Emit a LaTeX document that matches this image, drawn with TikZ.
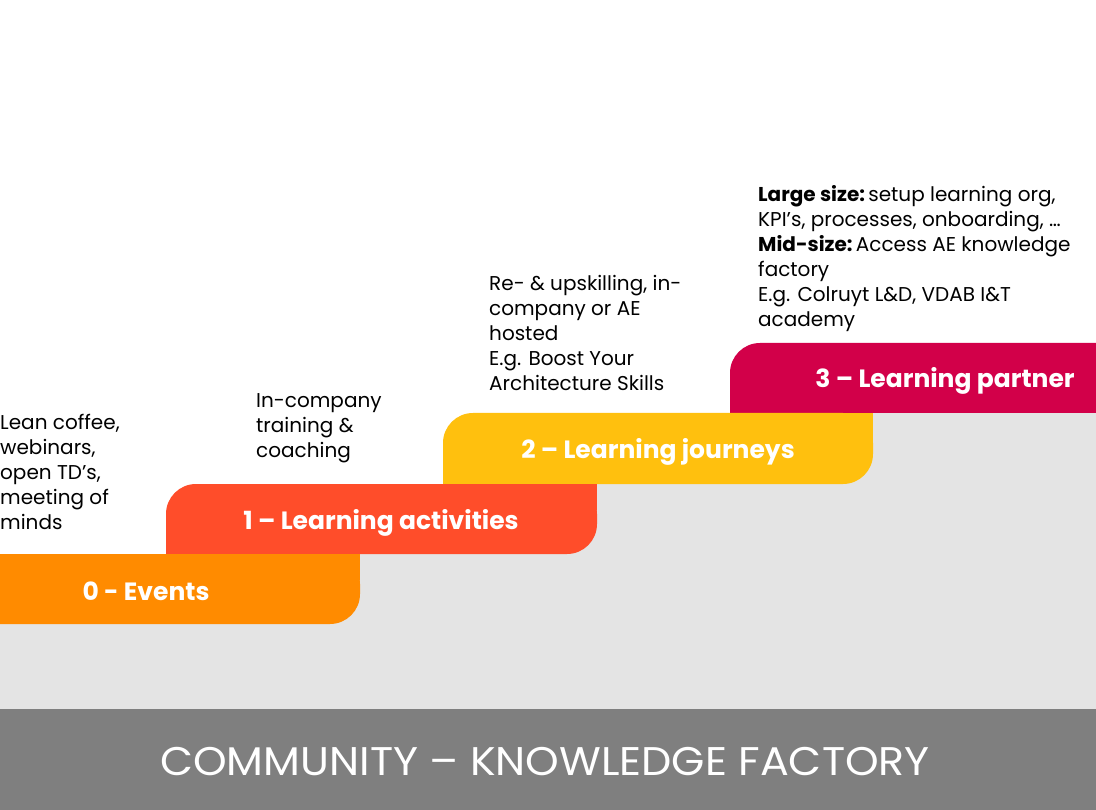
\documentclass[tikz,border=0pt]{standalone}
\usepackage{fontspec}
\setmainfont{Poppins}
\definecolor{czero}{HTML}{FF8B00}
\definecolor{cone}{HTML}{FF4D2A}
\definecolor{ctwo}{HTML}{FFC00E}
\definecolor{cthree}{HTML}{D20049}
\definecolor{lgray}{HTML}{E4E4E4}
\definecolor{dgray}{HTML}{7F7F7F}
\newcommand{\blk}[1]{\fontsize{20}{25}\selectfont\begin{tabular}[t]{@{}l@{}}#1\end{tabular}}
\tikzset{
  desc/.style={anchor=base west, inner sep=0pt, text=black},
  steplabel/.style={anchor=base, inner sep=0pt, text=white, font=\fontsize{25}{30}\selectfont\bfseries},
}
\begin{document}
\begin{tikzpicture}[x=1pt,y=-1pt]
\clip (0,0) rectangle (1096,810);
\fill[white] (0,0) rectangle (1096,810);
% gray stair background
\fill[lgray] (0,709) -- (1096,709) -- (1096,413) -- (800,413) -- (800,484) -- (520,484) -- (520,554) -- (300,554) -- (300,624) -- (0,624) -- cycle;
% bottom band
\fill[dgray] (0,709) rectangle (1096,810);
% step 3
\fill[cthree, rounded corners=30] (730,343) rectangle (1160,413);
\fill[cthree] (730,380) rectangle (780,413);
% step 2
\fill[ctwo, rounded corners=30] (443,413) rectangle (873,484);
\fill[ctwo] (820,413) rectangle (873,440);
\fill[ctwo] (443,450) rectangle (500,484);
% step 1
\fill[cone, rounded corners=30] (166,484) rectangle (597,554);
\fill[cone] (540,484) rectangle (597,510);
\fill[cone] (166,520) rectangle (220,554);
% step 0
\fill[czero, rounded corners=30] (-40,554) rectangle (360,624);
\fill[czero] (300,554) rectangle (360,580);
% step labels
\node[steplabel] (l0) at (146,600) {0 - Events};
\node[steplabel] (l1) at (381,529) {1 – Learning activities};
\node[steplabel] (l2) at (658,459) {2 – Learning journeys};
\node[steplabel] (l3) at (945,388) {3 – Learning partner};
% descriptions
\node[desc] (d0) at (0,430) {\blk{Lean coffee,\\webinars,\\open TD’s,\\meeting of\\minds}};
\node[desc] (d1) at (256,408) {\blk{In-company\\training \&\\coaching}};
\node[desc] (d2) at (489,291) {\blk{Re- \& upskilling, in-\\company or AE\\hosted\\E.g. Boost Your\\Architecture Skills}};
\node[desc] (d3) at (758,202) {\blk{\textbf{Large size:}\,setup learning org,\\KPI’s, processes, onboarding, …\\\textbf{Mid-size:}\,Access AE knowledge\\factory\\E.g. Colruyt L\&D, VDAB I\&T\\academy}};
% bottom title
\node[anchor=base, inner sep=0pt, text=white, font=\fontsize{40}{48}\selectfont] (title) at (545,775) {\scalebox{1.07}[1]{COMMUNITY – KNOWLEDGE FACTORY}};
\end{tikzpicture}
\end{document}
